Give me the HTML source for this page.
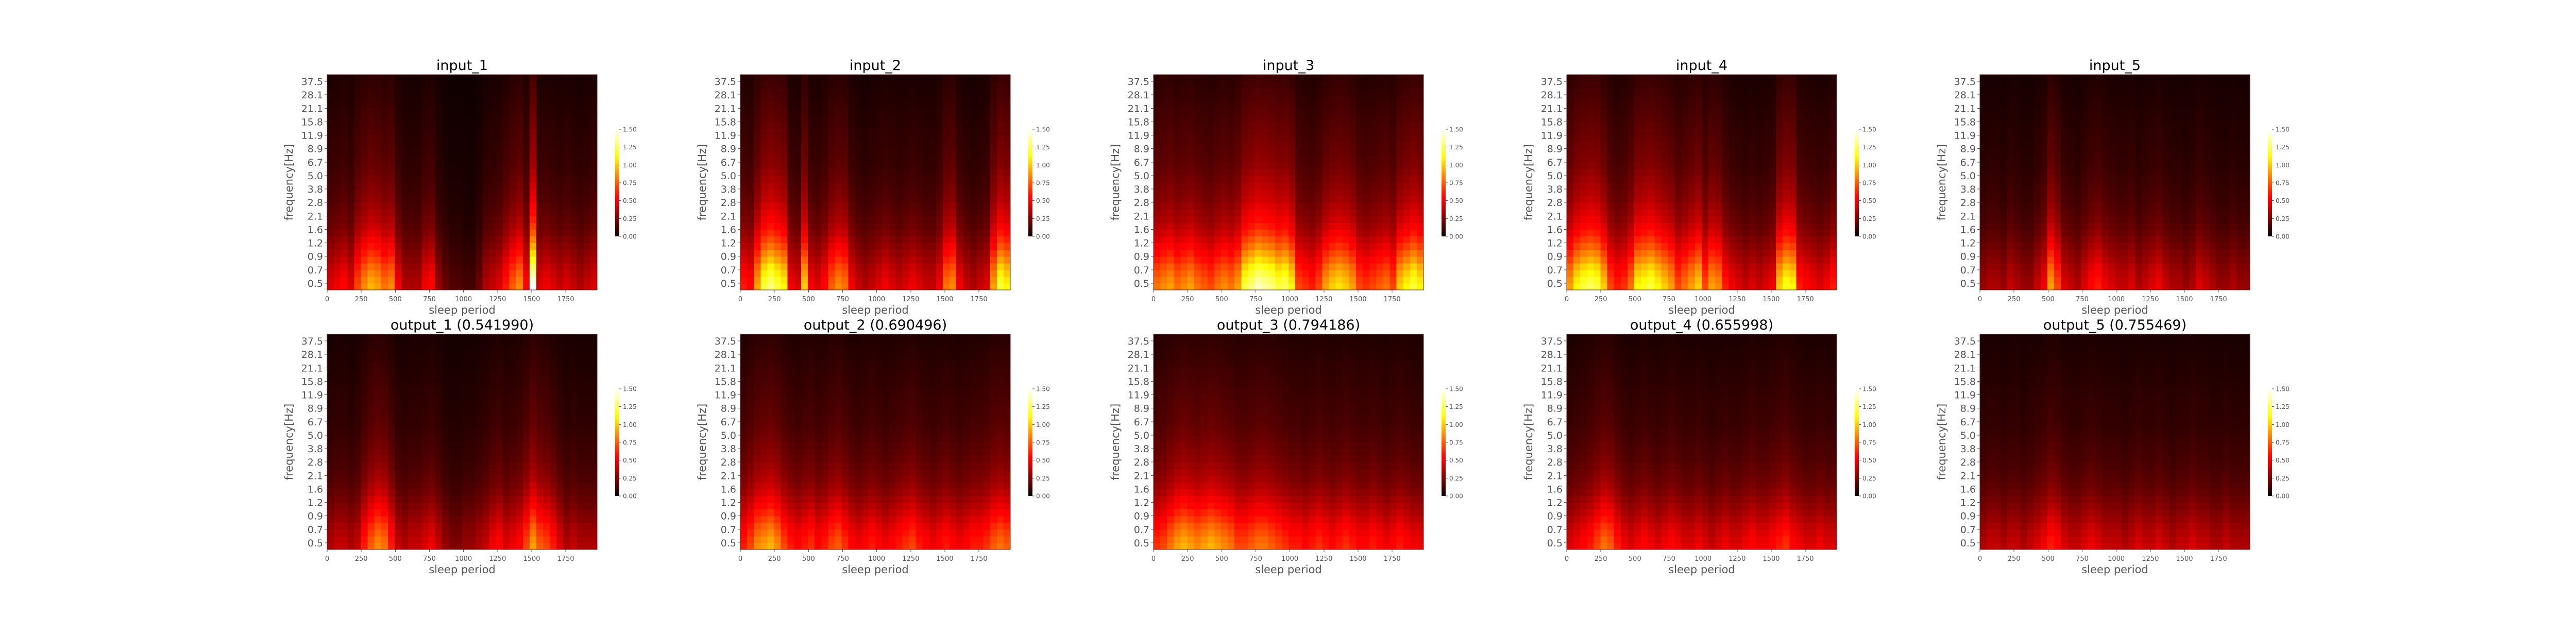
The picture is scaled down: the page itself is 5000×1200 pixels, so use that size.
<!DOCTYPE html>
<html><head><meta charset="utf-8"><style>
html,body{margin:0;padding:0;background:#fff;width:5000px;height:1200px;overflow:hidden}
svg text{font-family:"DejaVu Sans","Liberation Sans",sans-serif}
</style></head><body>
<svg id="fig" width="5000" height="1200" xmlns="http://www.w3.org/2000/svg" shape-rendering="crispEdges"></svg>
<script>
// ---- data ----
const titles = ["input_1","input_2","input_3","input_4","input_5","output_1 (0.541990)","output_2 (0.690496)","output_3 (0.794186)","output_4 (0.655998)","output_5 (0.755469)"];
const yAxisLabels = ["0.5","0.7","0.9","1.2","1.6","2.1","2.8","3.8","5.0","6.7","8.9","11.9","15.8","21.1","28.1","37.5"];
const xTickValues = [0,250,500,750,1000,1250,1500,1750];
const cbTickValues = [0,0.25,0.5,0.75,1.0,1.25,1.5];
const freqProfile = [1.0,0.96,0.9,0.84,0.76,0.69,0.62,0.56,0.5,0.45,0.41,0.38,0.35,0.32,0.3,0.28,0.26,0.24,0.22,0.21,0.2,0.19,0.18,0.17,0.16,0.15,0.14,0.13,0.12,0.11,0.1,0.09];
const in1 = [0.45,0.5,0.55,0.45,0.7,0.85,0.95,0.9,0.8,0.85,0.5,0.35,0.35,0.35,0.5,0.55,0.3,0.2,0.15,0.15,0.12,0.12,0.2,0.35,0.4,0.45,0.6,0.75,0.85,0.55,1.5,0.45,0.5,0.45,0.4,0.45,0.4,0.35,0.4,0.45];
const in2 = [0.6,0.55,0.9,1.2,1.3,1.2,1.1,0.5,0.45,1.0,0.5,0.45,0.55,0.75,0.85,0.8,0.5,0.4,0.35,0.4,0.45,0.5,0.45,0.4,0.45,0.5,0.45,0.4,0.4,0.5,0.8,0.85,0.5,0.4,0.35,0.4,0.45,0.9,1.2,1.1];
const in3 = [0.8,0.85,0.9,0.8,0.85,0.9,0.8,0.75,0.7,0.8,0.85,0.8,0.9,1.2,1.3,1.4,1.35,1.3,1.2,1.25,1.1,0.7,0.65,0.6,0.7,0.9,1.0,1.05,1.0,0.9,0.7,0.65,0.7,0.75,0.8,0.7,1.0,1.1,1.2,1.1];
const in4 = [0.9,1.1,1.2,1.25,1.2,1.0,0.7,0.6,0.65,0.8,1.1,1.15,1.2,1.1,1.0,0.9,0.7,0.8,0.9,1.0,0.7,0.9,0.85,0.6,0.5,0.45,0.4,0.45,0.4,0.45,0.5,1.0,1.15,1.1,0.6,0.55,0.5,0.45,0.5,0.6];
const in5 = [0.3,0.35,0.35,0.3,0.4,0.35,0.3,0.3,0.4,0.5,0.9,0.7,0.45,0.4,0.35,0.45,0.55,0.6,0.5,0.45,0.4,0.4,0.45,0.35,0.4,0.45,0.5,0.4,0.35,0.35,0.3,0.35,0.45,0.4,0.35,0.3,0.3,0.35,0.3,0.3];
const out1 = [0.35,0.4,0.4,0.35,0.4,0.6,0.75,0.85,0.8,0.6,0.4,0.35,0.4,0.4,0.45,0.5,0.4,0.3,0.25,0.25,0.3,0.3,0.35,0.4,0.5,0.55,0.45,0.5,0.55,0.7,0.9,0.75,0.7,0.6,0.45,0.35,0.4,0.35,0.35,0.35];
const out2 = [0.6,0.7,0.85,0.9,0.95,0.85,0.7,0.6,0.55,0.6,0.65,0.55,0.6,0.7,0.75,0.65,0.55,0.5,0.55,0.6,0.55,0.5,0.55,0.6,0.65,0.7,0.6,0.55,0.5,0.55,0.6,0.55,0.5,0.55,0.6,0.6,0.65,0.75,0.8,0.75];
const out3 = [0.65,0.7,0.8,0.9,0.95,0.9,0.85,0.9,0.95,0.9,0.85,0.8,0.7,0.7,0.75,0.8,0.8,0.75,0.7,0.65,0.6,0.6,0.55,0.6,0.65,0.6,0.55,0.6,0.65,0.6,0.55,0.55,0.6,0.55,0.5,0.55,0.6,0.55,0.5,0.5];
const out4 = [0.45,0.5,0.55,0.6,0.7,0.8,0.75,0.6,0.5,0.45,0.5,0.55,0.5,0.45,0.5,0.55,0.5,0.45,0.45,0.5,0.45,0.4,0.45,0.5,0.45,0.45,0.5,0.55,0.5,0.5,0.55,0.6,0.65,0.55,0.5,0.45,0.45,0.5,0.45,0.45];
const out5 = [0.35,0.4,0.4,0.35,0.4,0.4,0.35,0.4,0.45,0.5,0.6,0.55,0.45,0.4,0.4,0.45,0.5,0.45,0.4,0.4,0.4,0.35,0.4,0.45,0.4,0.4,0.45,0.4,0.35,0.4,0.4,0.45,0.4,0.4,0.35,0.35,0.4,0.35,0.35,0.35];
const panelColumns = [in1,in2,in3,in4,in5,out1,out2,out3,out4,out5];
const xMax = 1980, vMax = 1.5;

const NS = "http://www.w3.org/2000/svg";
const fig = document.getElementById('fig');
const AX0 = 635, DX = 802, AW = 524, AH = 418, TOP0 = 145, DY = 504;
function mk(tag, attrs, parent){const e=document.createElementNS(NS,tag);for(const k in attrs)e.setAttribute(k,attrs[k]);(parent||fig).appendChild(e);return e;}
function hot(v){const x=Math.max(0,Math.min(1,v/vMax));
  const r=Math.min(1,0.04+x/0.365),g=Math.max(0,Math.min(1,(x-0.365)/0.375)),b=Math.max(0,Math.min(1,(x-0.74)/0.26));
  return `rgb(${Math.round(255*Math.min(1,r))},${Math.round(255*g)},${Math.round(255*b)})`;}

const defs = mk('defs',{});
const grad = mk('linearGradient',{id:'hotgrad',x1:0,y1:1,x2:0,y2:0},defs);
for(let i=0;i<=20;i++){mk('stop',{offset:(i/20),'stop-color':hot(i/20*vMax)},grad);}

panelColumns.forEach((cols,p)=>{
  const row = Math.floor(p/5), ci = p%5;
  const left = AX0 + ci*DX, top = TOP0 + row*DY;
  const g = mk('g',{});
  
  
  const nR = freqProfile.length, cw = AW/cols.length, rh = AH/nR;
  const hm = mk('g',{},g);
  
  
  cols.forEach((cv,c)=>{
    freqProfile.forEach((fp,r)=>{
      const rc = mk('rect',{x:(left+c*cw).toFixed(2),y:(top+AH-(r+1)*rh).toFixed(2),width:(cw+0.6).toFixed(2),height:(rh+0.6).toFixed(2),fill:hot(cv*fp)},hm);
      
      
    });
  });
  const fr = mk('rect',{x:left,y:top,width:AW,height:AH,fill:'none',stroke:'#5a2a2a','stroke-width':1},g);
  
  
  const t = mk('text',{x:left+AW/2,y:top-9,'text-anchor':'middle','font-size':27,fill:'#000'},g);
  t.textContent = titles[p];
  
  

  const step = AH/yAxisLabels.length;
  yAxisLabels.forEach((lab,i)=>{
    const y = top + AH - (i+0.5)*step;
    mk('line',{x1:left-5,x2:left,y1:y,y2:y,stroke:'#555','stroke-width':1},g);
    const tt = mk('text',{x:left-8,y:y+7,'text-anchor':'end','font-size':19,fill:'#555'},g);
    tt.textContent = lab;
    
    
  });
  xTickValues.forEach(v=>{
    const x = left + v/xMax*AW;
    mk('line',{x1:x,x2:x,y1:top+AH,y2:top+AH+5,stroke:'#555','stroke-width':1},g);
    const tt = mk('text',{x:x,y:top+AH+22,'text-anchor':'middle','font-size':13,fill:'#555'},g);
    tt.textContent = v;
    
    
  });
  const xl = mk('text',{x:left+AW/2,y:top+AH+46,'text-anchor':'middle','font-size':21,fill:'#555'},g);
  xl.textContent = 'sleep period';
  
  
  const yx = left-67, yy = top+AH/2;
  const yl = mk('text',{x:yx,y:yy,'text-anchor':'middle','font-size':21,fill:'#555',transform:`rotate(-90 ${yx} ${yy})`},g);
  yl.textContent = 'frequency[Hz]';
  
  
  const cbx = left+559, cby = top+106, cbw = 8, cbh = 208;
  const cb = mk('rect',{x:cbx,y:cby,width:cbw,height:cbh,fill:'url(#hotgrad)'},g);
  
  
  cbTickValues.forEach(v=>{
    const y = cby + cbh - v/vMax*cbh;
    mk('line',{x1:cbx+cbw,x2:cbx+cbw+4,y1:y,y2:y,stroke:'#555','stroke-width':1},g);
    const tt = mk('text',{x:cbx+cbw+7,y:y+4.5,'font-size':12,fill:'#555'},g);
    tt.textContent = v.toFixed(2);
    
    
  });
});
</script>
</body></html>
